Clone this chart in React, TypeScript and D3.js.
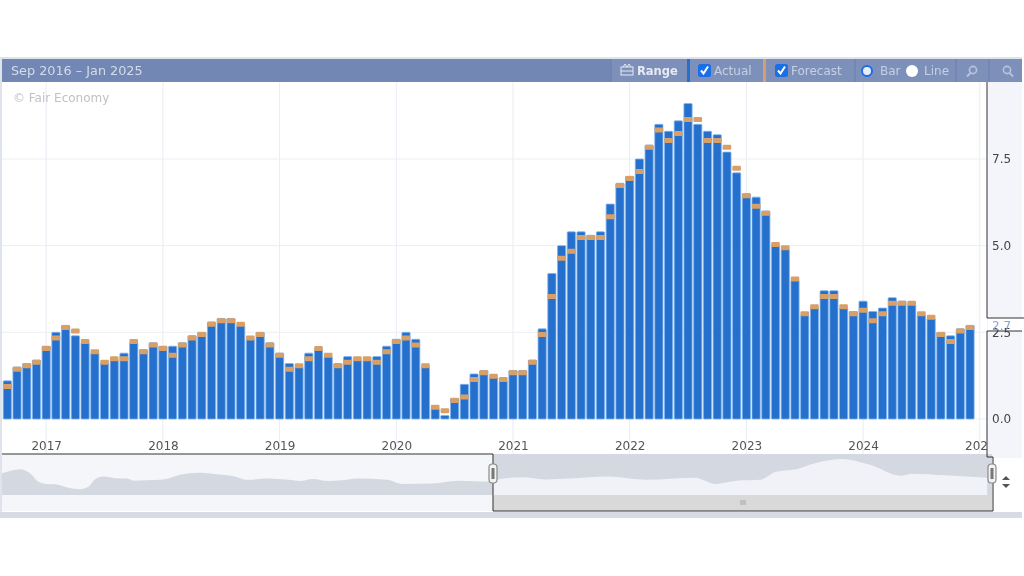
import React, { useEffect, useRef } from 'react';
import * as d3 from 'd3';

// release month index 0 = Sep 2016, one entry per month up to Dec 2024
const actual = [
  1.1, 1.5, 1.6, 1.7,
  2.1, 2.5, 2.7, 2.4, 2.2, 1.9, 1.6, 1.7, 1.9, 2.2, 2.0, 2.2,
  2.1, 2.1, 2.2, 2.4, 2.5, 2.8, 2.9, 2.9, 2.7, 2.3, 2.5, 2.2,
  1.9, 1.6, 1.5, 1.9, 2.0, 1.8, 1.6, 1.8, 1.7, 1.7, 1.8, 2.1,
  2.3, 2.5, 2.3, 1.5, 0.3, 0.1, 0.6, 1.0, 1.3, 1.4, 1.2, 1.1,
  1.4, 1.4, 1.7, 2.6, 4.2, 5.0, 5.4, 5.4, 5.3, 5.4, 6.2, 6.8,
  7.0, 7.5, 7.9, 8.5, 8.3, 8.6, 9.1, 8.5, 8.3, 8.2, 7.7, 7.1,
  6.5, 6.4, 6.0, 5.0, 4.9, 4.0, 3.0, 3.2, 3.7, 3.7, 3.2, 3.1,
  3.4, 3.1, 3.2, 3.5, 3.4, 3.3, 3.0, 2.9, 2.5, 2.4, 2.6, 2.7,
];
const forecast = [
  1.0, 1.5, 1.6, 1.7,
  2.1, 2.4, 2.7, 2.6, 2.3, 2.0, 1.7, 1.8, 1.8, 2.3, 2.0, 2.2,
  2.1, 1.9, 2.2, 2.4, 2.5, 2.8, 2.9, 2.9, 2.8, 2.4, 2.5, 2.2,
  1.9, 1.5, 1.6, 1.8, 2.1, 1.9, 1.6, 1.7, 1.8, 1.8, 1.7, 2.0,
  2.3, 2.4, 2.2, 1.6, 0.4, 0.3, 0.6, 0.7, 1.2, 1.4, 1.3, 1.2,
  1.4, 1.4, 1.7, 2.5, 3.6, 4.7, 4.9, 5.3, 5.3, 5.3, 5.9, 6.8,
  7.0, 7.2, 7.9, 8.4, 8.1, 8.3, 8.7, 8.7, 8.1, 8.1, 7.9, 7.3,
  6.5, 6.2, 6.0, 5.1, 5.0, 4.1, 3.1, 3.3, 3.6, 3.6, 3.3, 3.1,
  3.2, 2.9, 3.1, 3.4, 3.4, 3.4, 3.1, 3.0, 2.5, 2.3, 2.6, 2.7,
];
const yearLabels = ['2017', '2018', '2019', '2020', '2021', '2022', '2023', '2024', '2025'];
const yTicks = [0, 2.5, 5, 7.5];
const lastValue = 2.7;

// overview strip under the chart
const navYears = [
  2008.5, 2008.7, 2008.8, 2008.9, 2009.0, 2009.1, 2009.25, 2009.4, 2009.55, 2009.8, 2009.95, 2010.05,
  2010.2, 2010.4, 2010.6, 2010.7, 2011.15, 2011.3, 2011.5, 2011.8, 2012.05, 2012.4, 2012.6, 2012.95,
  2013.3, 2013.5, 2013.7, 2013.95, 2014.2, 2014.45, 2014.95, 2015.2, 2015.7, 2016.15, 2016.65, 2016.77,
  2017.2, 2017.6, 2018.0, 2018.65, 2019.3, 2020.1, 2020.45, 2020.8, 2021.2, 2021.45, 2021.8, 2022.1,
  2022.55, 2023.05, 2023.55, 2023.75, 2024.3, 2025.0,
];
const navLevels = [
  53, 61, 63, 59, 49, 33, 27, 26, 20, 14, 20, 37,
  45, 41, 40, 35, 37, 41, 50, 54, 51, 45, 37, 40,
  37, 34, 39, 34, 36, 40, 37, 27, 28, 35, 33, 37,
  43, 38, 40, 45, 37, 42, 27, 35, 37, 56, 63, 77,
  88, 73, 47, 52, 48, 42,
];

const W = 1024;
const H = 576;
const plot = { left: 2, right: 987, top: 82, bottom: 454 };
const nav = { top: 454, base: 495, bottom: 511, split: 493, end: 992 };
const FONT = '"DejaVu Sans", sans-serif';

const App: React.FC = () => {
  const svgRef = useRef<SVGSVGElement | null>(null);

  useEffect(() => {
    if (!svgRef.current) return;
    const svg = d3.select(svgRef.current);
    svg.selectAll('*').remove();

    const x = d3.scaleLinear().domain([-0.5, 99.5]).range([2.44, 974.9]);
    const y = d3.scaleLinear().domain([0, 7.5]).range([419, 159]);
    const barW = 8.2;
    const yearIdx = yearLabels.map((_, i) => 4 + i * 12);

    const defs = svg.append('defs');
    defs.append('clipPath').attr('id', 'plotClip').append('rect')
      .attr('x', plot.left).attr('y', plot.top).attr('width', plot.right - plot.left).attr('height', plot.bottom - plot.top);
    defs.append('clipPath').attr('id', 'navLeft').append('rect')
      .attr('x', plot.left).attr('y', nav.top).attr('width', nav.split - plot.left).attr('height', nav.bottom - nav.top);
    defs.append('clipPath').attr('id', 'navRight').append('rect')
      .attr('x', nav.split).attr('y', nav.top).attr('width', nav.end - nav.split).attr('height', nav.bottom - nav.top);
    defs.append('clipPath').attr('id', 'plotClipAxis').append('rect')
      .attr('x', 0).attr('y', -10).attr('width', plot.right).attr('height', 40);

    // frame
    svg.append('rect').attr('x', 0).attr('y', 57).attr('width', 1022).attr('height', 461).attr('fill', '#dfe3ec');
    svg.append('rect').attr('x', plot.left).attr('y', plot.top).attr('width', 1022 - plot.left).attr('height', 430).attr('fill', '#fff');
    svg.append('rect').attr('x', plot.right).attr('y', plot.top).attr('width', 1022 - plot.right).attr('height', 429).attr('fill', '#f4f5fa');
    svg.append('rect').attr('x', plot.right + 1).attr('y', 318).attr('width', 36).attr('height', 13).attr('fill', '#fff');

    // grid
    const grid = svg.append('g').attr('clip-path', 'url(#plotClip)');
    grid.selectAll('line.v').data(yearIdx).join('line')
      .attr('class', 'v')
      .attr('x1', (d) => x(d)).attr('x2', (d) => x(d))
      .attr('y1', plot.top).attr('y2', plot.bottom)
      .attr('stroke', '#e8ecf4');
    grid.selectAll('line.h').data(yTicks).join('line')
      .attr('class', 'h')
      .attr('x1', plot.left).attr('x2', plot.right)
      .attr('y1', (d) => y(d)).attr('y2', (d) => y(d))
      .attr('stroke', '#eceef3');

    svg.append('text').attr('x', 13).attr('y', 102).attr('font-family', FONT).attr('font-size', 12)
      .attr('fill', '#bfc1c5').text('© Fair Economy');

    // bars
    svg.append('g').selectAll('rect').data(actual).join('rect')
      .attr('x', (_, i) => x(i) - barW / 2)
      .attr('y', (d) => y(d))
      .attr('width', barW)
      .attr('height', (d) => y(0) - y(d))
      .attr('rx', 0.8)
      .attr('fill', '#2470cc')
      .attr('stroke', '#7fb4f0')
      .attr('stroke-width', 0.8);

    svg.append('g').selectAll('rect').data(forecast).join('rect')
      .attr('x', (_, i) => x(i) - barW / 2 - 0.2)
      .attr('y', (d) => y(d) - 0.3)
      .attr('width', barW + 0.4)
      .attr('height', 5)
      .attr('rx', 1.2)
      .attr('fill', '#d8a067');

    // x axis
    const xAxis = svg.append('g')
      .attr('transform', `translate(0,${441})`)
      .attr('clip-path', 'url(#plotClipAxis)')
      .call(d3.axisBottom(x).tickValues(yearIdx).tickSize(0).tickPadding(0).tickFormat((_, i) => yearLabels[i]));
    xAxis.select('.domain').remove();
    xAxis.selectAll('text').attr('font-family', FONT).attr('font-size', 12).attr('fill', '#555');

    // y axis
    const yAxis = svg.append('g')
      .attr('transform', `translate(${plot.right},0)`)
      .call(d3.axisRight(y).tickValues(yTicks).tickSize(0).tickPadding(5).tickFormat(d3.format('.1f')));
    yAxis.select('.domain').remove();
    yAxis.selectAll('text').attr('font-family', FONT).attr('font-size', 12).attr('fill', '#444');

    svg.append('text').attr('x', plot.right + 5).attr('y', y(lastValue) + 5)
      .attr('font-family', FONT).attr('font-size', 12).attr('fill', '#7ea6e0').text(lastValue.toFixed(1));

    const axisLine = d3.line();
    svg.append('path')
      .attr('d', axisLine([[plot.right, plot.top], [plot.right, 318], [1024, 318]]))
      .attr('fill', 'none').attr('stroke', '#333').attr('stroke-width', 1);
    svg.append('path')
      .attr('d', axisLine([[1022, 331], [plot.right, 331], [plot.right, 454]]))
      .attr('fill', 'none').attr('stroke', '#333').attr('stroke-width', 1);

    // overview strip
    const xNav = d3.scaleLinear().domain([2008.5, 2025.08]).range([plot.left, nav.end]);
    const yNav = d3.scaleLinear().domain([0, 100]).range([nav.base, nav.top]);
    const area = d3.area<number>()
      .x((_, i) => xNav(navYears[i]))
      .y0(nav.base)
      .y1((d) => yNav(d))
      .curve(d3.curveMonotoneX);
    const areaD = area(navLevels) as string;

    svg.append('rect').attr('x', plot.left).attr('y', nav.top).attr('width', nav.split - plot.left)
      .attr('height', nav.bottom - nav.top).attr('fill', '#f4f6fa');
    svg.append('path').attr('d', areaD).attr('fill', '#d3d8e1').attr('clip-path', 'url(#navLeft)');

    svg.append('rect').attr('x', nav.split).attr('y', nav.top).attr('width', nav.end - nav.split)
      .attr('height', nav.base - nav.top).attr('fill', '#d3d8e1');
    svg.append('path').attr('d', areaD).attr('fill', '#f0f2f7').attr('clip-path', 'url(#navRight)');
    svg.append('rect').attr('x', nav.split).attr('y', nav.base).attr('width', nav.end - nav.split)
      .attr('height', nav.bottom - nav.base).attr('fill', '#d9d9d9');
    svg.append('rect').attr('x', nav.end - 4).attr('y', nav.top).attr('width', 4)
      .attr('height', nav.base - nav.top).attr('fill', '#d3d8e1');

    svg.append('path')
      .attr('d', axisLine([[plot.left, nav.top], [nav.split, nav.top], [nav.split, nav.bottom], [nav.end + 1, nav.bottom], [nav.end + 1, nav.top + 3], [plot.right, nav.top + 3], [plot.right, nav.top]]))
      .attr('fill', 'none').attr('stroke', '#333').attr('stroke-width', 1);
    svg.append('rect').attr('x', 0).attr('y', nav.bottom + 1).attr('width', 1022).attr('height', 6).attr('fill', '#d6dbe4');
    svg.append('rect').attr('x', 994).attr('y', nav.top + 4).attr('width', 28).attr('height', 53).attr('fill', '#fff');

    [nav.split, nav.end].forEach((hx) => {
      svg.append('rect').attr('x', hx - 4).attr('y', 464).attr('width', 8).attr('height', 19).attr('rx', 3.5)
        .attr('fill', '#f2f2f2').attr('stroke', '#8a8a8a').attr('stroke-width', 1.2);
      svg.append('rect').attr('x', hx - 1.5).attr('y', 468).attr('width', 3).attr('height', 11).attr('fill', '#777');
    });
    [-2, 0, 2].forEach((dx) => {
      svg.append('line').attr('x1', 743 + dx).attr('x2', 743 + dx).attr('y1', 500).attr('y2', 505)
        .attr('stroke', '#999').attr('stroke-width', 0.8);
    });
    svg.append('path').attr('d', 'M1002,480 L1006,476 L1010,480 Z').attr('fill', '#555');
    svg.append('path').attr('d', 'M1002,484 L1006,488 L1010,484 Z').attr('fill', '#555');

    // header bar
    svg.append('rect').attr('x', plot.left).attr('y', 59).attr('width', 1020).attr('height', 23).attr('fill', '#7287b3');
    svg.append('rect').attr('x', 611).attr('y', 59).attr('width', 411).attr('height', 23).attr('fill', '#7d90ba');
    svg.append('text').attr('x', 11).attr('y', 75).attr('font-family', FONT).attr('font-size', 12.8)
      .attr('fill', '#d5dbea').text('Sep 2016 – Jan 2025');

    [611, 855, 956, 989].forEach((dx) => {
      svg.append('line').attr('x1', dx).attr('x2', dx).attr('y1', 59).attr('y2', 82).attr('stroke', '#6b7faa');
    });
    svg.append('rect').attr('x', 687).attr('y', 59).attr('width', 3).attr('height', 23).attr('fill', '#2470cc');
    svg.append('rect').attr('x', 763).attr('y', 59).attr('width', 3).attr('height', 23).attr('fill', '#d8a067');

    const label = (tx: number, s: string, fill: string, size = 12, weight = 'normal') =>
      svg.append('text').attr('x', tx).attr('y', 75).attr('font-family', FONT).attr('font-size', size)
        .attr('font-weight', weight).attr('fill', fill).text(s);

    // range icon
    svg.append('rect').attr('x', 621).attr('y', 67).attr('width', 12).attr('height', 8).attr('fill', 'none').attr('stroke', '#e6eaf3');
    svg.append('path').attr('d', 'M621,71 H633 M623,67 L625,64 L627,67 M627,67 L629,64 L631,67').attr('fill', 'none').attr('stroke', '#e6eaf3');
    label(637, 'Range', '#e6eaf3', 11.5, 'bold');

    [698, 775].forEach((cx) => {
      svg.append('rect').attr('x', cx).attr('y', 64).attr('width', 13).attr('height', 13).attr('rx', 2.5).attr('fill', '#1a6ee6');
      svg.append('path').attr('d', `M${cx + 3},${70.5} L${cx + 5.5},${73.5} L${cx + 10},${66.5}`)
        .attr('fill', 'none').attr('stroke', '#fff').attr('stroke-width', 2);
    });
    label(714, 'Actual', '#c6d0e4');
    label(791, 'Forecast', '#c6d0e4');

    svg.append('circle').attr('cx', 867).attr('cy', 71).attr('r', 5).attr('fill', '#e8eef8').attr('stroke', '#1a6ee6').attr('stroke-width', 2);
    label(880, 'Bar', '#c6d0e4');
    svg.append('circle').attr('cx', 912).attr('cy', 71).attr('r', 6).attr('fill', '#fff');
    label(924, 'Line', '#c6d0e4');

    // zoom icons, handles point outwards
    const zoomIcons: [number, number][] = [[973, -1], [1007, 1]];
    zoomIcons.forEach(([c, dir]) => {
      svg.append('circle').attr('cx', c).attr('cy', 70).attr('r', 3.6).attr('fill', 'none').attr('stroke', '#b8c4dc').attr('stroke-width', 1.6);
      svg.append('line').attr('x1', c + dir * 2.6).attr('y1', 73).attr('x2', c + dir * 6).attr('y2', 76.5).attr('stroke', '#b8c4dc').attr('stroke-width', 1.8);
    });
  }, []);

  return (
    <svg
      ref={svgRef}
      width={W}
      height={H}
      style={{ position: 'absolute', left: 0, top: 0, background: '#fff', filter: 'blur(0.35px)' }}
    />
  );
};

export default App;
